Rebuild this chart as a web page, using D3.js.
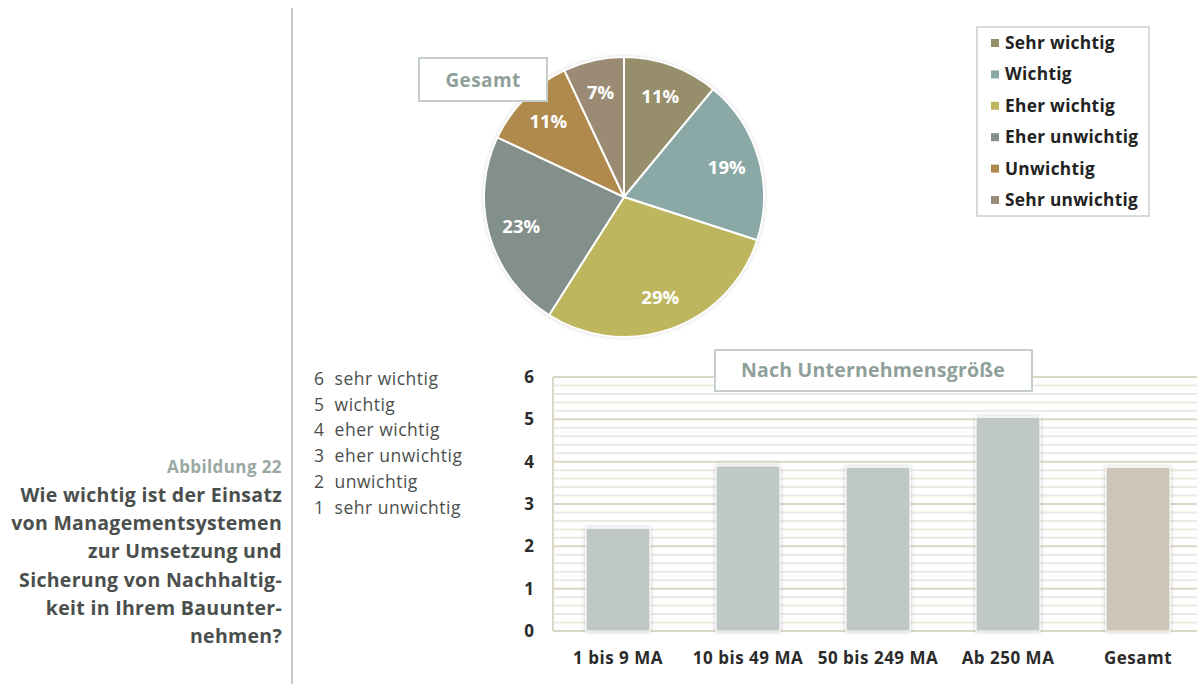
<!DOCTYPE html>
<html>
<head>
<meta charset="utf-8">
<script src="https://cdn.jsdelivr.net/npm/d3@7"></script>
<style>
  body { margin: 0; background: #fff; }
  svg text { font-family: "Open Sans", Lato, sans-serif; }
</style>
</head>
<body>
<div id="chart"></div>
<script>
// pie data (Gesamt)
var pieLabels = ["Sehr wichtig", "Wichtig", "Eher wichtig", "Eher unwichtig", "Unwichtig", "Sehr unwichtig"];
var pieValues = [11, 19, 29, 23, 11, 7];
var pieColors = ["#978f6b", "#8aa8a6", "#bdb65e", "#828f8a", "#b08a4c", "#9c8b74"];

// bar data (Nach Unternehmensgröße)
var barCats = ["1 bis 9 MA", "10 bis 49 MA", "50 bis 249 MA", "Ab 250 MA", "Gesamt"];
var barValues = [2.43, 3.9, 3.87, 5.05, 3.87];
var yTicks = [0, 1, 2, 3, 4, 5, 6];

var scaleText = ["6  sehr wichtig", "5  wichtig", "4  eher wichtig", "3  eher unwichtig", "2  unwichtig", "1  sehr unwichtig"];
var captionLines = ["Wie wichtig ist der Einsatz", "von Managementsystemen", "zur Umsetzung und",
    "Sicherung von Nachhaltig-", "keit in Ihrem Bauunter-", "nehmen?"];

var W = 1197, H = 684;
var svg = d3.select("#chart").append("svg")
    .attr("width", W)
    .attr("height", H);

var defs = svg.append("defs");
var shadow = defs.append("filter").attr("id", "shadow")
    .attr("x", "-20%").attr("y", "-20%").attr("width", "140%").attr("height", "140%");
shadow.append("feDropShadow")
    .attr("dx", 0).attr("dy", 0).attr("stdDeviation", 2)
    .attr("flood-color", "#000").attr("flood-opacity", 0.25);

// caption on the left
svg.append("line")
    .attr("x1", 292).attr("x2", 292).attr("y1", 8).attr("y2", H)
    .attr("stroke", "#c3c7c5").attr("stroke-width", 2);

svg.append("text")
    .attr("x", 282).attr("y", 473)
    .attr("text-anchor", "end")
    .attr("font-size", 17).attr("font-weight", "bold")
    .attr("letter-spacing", 0.4)
    .attr("fill", "#9aa8a3")
    .text("Abbildung 22");

svg.selectAll(".cap").data(captionLines).enter().append("text")
    .attr("class", "cap")
    .attr("x", 282)
    .attr("y", function (d, i) { return 502 + i * 28.2; })
    .attr("text-anchor", "end")
    .attr("font-size", 19.5).attr("font-weight", "bold")
    .attr("letter-spacing", 0.3)
    .attr("fill", "#4a4f4d")
    .text(function (d) { return d; });

// scale explanation
svg.selectAll(".scale").data(scaleText).enter().append("text")
    .attr("class", "scale")
    .attr("x", 314)
    .attr("y", function (d, i) { return 385 + i * 25.7; })
    .attr("font-size", 17.5)
    .attr("letter-spacing", 0.5)
    .attr("fill", "#4b4f4d")
    .style("white-space", "pre")
    .text(function (d) { return d; });

// ---- Pie ----
var cx = 624, cy = 197, r = 140;
var pie = d3.pie().sort(null).value(function (d) { return d; });
var arc = d3.arc().innerRadius(0).outerRadius(r);
var labelArc = d3.arc().innerRadius(107).outerRadius(107);

var pieG = svg.append("g").attr("transform", "translate(" + cx + "," + cy + ")");
pieG.append("circle").attr("r", r).attr("fill", "#fff").attr("filter", "url(#shadow)");
pieG.selectAll("path").data(pie(pieValues)).enter().append("path")
    .attr("d", arc)
    .attr("fill", function (d, i) { return pieColors[i]; })
    .attr("stroke", "#fff")
    .attr("stroke-width", 2);

pieG.selectAll(".plabel").data(pie(pieValues)).enter().append("text")
    .attr("class", "plabel")
    .attr("transform", function (d) { return "translate(" + labelArc.centroid(d) + ")"; })
    .attr("text-anchor", "middle")
    .attr("dy", "0.35em")
    .attr("font-size", 18.5).attr("font-weight", "bold")
    .attr("fill", "#fff")
    .text(function (d) { return d.value + "%"; });

// Gesamt box
svg.append("rect")
    .attr("x", 419).attr("y", 58).attr("width", 128).attr("height", 43)
    .attr("fill", "#fff").attr("stroke", "#c5cecb").attr("stroke-width", 2);
svg.append("text")
    .attr("x", 483).attr("y", 80).attr("dy", "0.35em")
    .attr("text-anchor", "middle")
    .attr("font-size", 19).attr("font-weight", "bold")
    .attr("letter-spacing", 0.4)
    .attr("fill", "#8f9f99")
    .text("Gesamt");

// legend
svg.append("rect")
    .attr("x", 977).attr("y", 27).attr("width", 172).attr("height", 189)
    .attr("fill", "#fff").attr("stroke", "#c8d0cd").attr("stroke-width", 1.5);
var leg = svg.selectAll(".leg").data(pieLabels).enter().append("g")
    .attr("class", "leg")
    .attr("transform", function (d, i) { return "translate(991," + (43 + i * 31.4) + ")"; });
leg.append("rect")
    .attr("x", 0).attr("y", -4).attr("width", 8).attr("height", 8)
    .attr("fill", function (d, i) { return pieColors[i]; });
leg.append("text")
    .attr("x", 14).attr("dy", "0.35em")
    .attr("font-size", 17.3).attr("font-weight", "bold")
    .attr("letter-spacing", 0.3)
    .attr("fill", "#222")
    .text(function (d) { return d; });

// ---- Bar chart ----
var plot = { left: 553, right: 1203, top: 377, bottom: 631 };

var x = d3.scaleBand()
    .domain(barCats)
    .range([plot.left, plot.right])
    .paddingInner(0.508)
    .paddingOuter(0.254);

var y = d3.scaleLinear()
    .domain([0, 6])
    .range([plot.bottom, plot.top]);

// minor grid lines every 0.2
var minor = d3.range(0, 30).map(function (i) { return i * 0.2; })
    .filter(function (v) { return Math.abs(v - Math.round(v)) > 0.01; });
svg.append("g").selectAll("line").data(minor).enter().append("line")
    .attr("x1", plot.left).attr("x2", W)
    .attr("y1", function (d) { return y(d); })
    .attr("y2", function (d) { return y(d); })
    .attr("stroke", "#ebe9e0").attr("stroke-width", 2);

// major grid lines
svg.append("g").selectAll("line").data(yTicks).enter().append("line")
    .attr("x1", plot.left).attr("x2", W)
    .attr("y1", function (d) { return y(d); })
    .attr("y2", function (d) { return y(d); })
    .attr("stroke", "#dcd8c7").attr("stroke-width", 2);

svg.append("line")
    .attr("x1", plot.left).attr("x2", plot.left)
    .attr("y1", plot.top).attr("y2", plot.bottom)
    .attr("stroke", "#dcd8c7").attr("stroke-width", 2);

// bars
svg.append("g").selectAll("rect").data(barValues).enter().append("rect")
    .attr("x", function (d, i) { return x(barCats[i]); })
    .attr("width", x.bandwidth())
    .attr("y", function (d) { return y(d); })
    .attr("height", function (d) { return y(0) - y(d); })
    .attr("fill", function (d, i) { return i === 4 ? "#cdc5b8" : "#bfc8c5"; })
    .attr("stroke", "#fff").attr("stroke-width", 1)
    .attr("filter", "url(#shadow)");

// y axis
var yAxis = svg.append("g")
    .attr("transform", "translate(536,0)")
    .call(d3.axisLeft(y).tickValues(yTicks).tickFormat(d3.format("d")).tickSize(0).tickPadding(0));
yAxis.select(".domain").remove();
yAxis.selectAll("text")
    .attr("text-anchor", "middle")
    .attr("x", -7)
    .attr("font-size", 17).attr("font-weight", "bold")
    .attr("fill", "#2b2b2b")
    .style("font-family", "'Open Sans', Lato, sans-serif");

// x axis
var xAxis = svg.append("g")
    .attr("transform", "translate(0," + plot.bottom + ")")
    .call(d3.axisBottom(x).tickSize(0).tickPadding(21));
xAxis.select(".domain").remove();
xAxis.selectAll("text")
    .attr("font-size", 17).attr("font-weight", "bold")
    .attr("letter-spacing", 0.5)
    .attr("fill", "#2b2b2b")
    .style("font-family", "'Open Sans', Lato, sans-serif");

// title box
svg.append("rect")
    .attr("x", 715).attr("y", 350).attr("width", 317).attr("height", 41)
    .attr("fill", "#fff").attr("stroke", "#c5cecb").attr("stroke-width", 2);
svg.append("text")
    .attr("x", 873).attr("y", 370).attr("dy", "0.35em")
    .attr("text-anchor", "middle")
    .attr("font-size", 19.5).attr("font-weight", "bold")
    .attr("letter-spacing", 0.2)
    .attr("fill", "#8f9f99")
    .text("Nach Unternehmensgröße");
</script>
</body>
</html>
